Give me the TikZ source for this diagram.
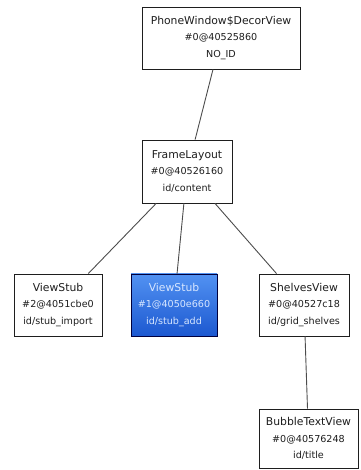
\documentclass[tikz,border=0pt]{standalone}
\usepackage{fontspec}
\setmainfont{DejaVu Sans}
\newcommand\viewlbl[3]{{\fontsize{10.8}{16.5}\selectfont #1}\\#2\\#3}
\definecolor{selTop}{RGB}{82,146,242}
\definecolor{selBot}{RGB}{28,88,208}
\definecolor{selText}{RGB}{215,230,255}
\definecolor{inkDark}{RGB}{30,30,30}
\begin{document}
\begin{tikzpicture}[x=1pt,y=1pt,
  box/.style={draw=inkDark, line width=0.9pt, fill=white, inner sep=0pt, align=center,
    text=inkDark, font=\fontsize{9.6}{16.5}\selectfont},
  sel/.style={box, draw=black!60!blue!60!black, top color=selTop, bottom color=selBot, text=selText},
  link/.style={draw=black!70, line width=0.9pt}]
\useasboundingbox (0,0) rectangle (360,470);
\node[box, minimum width=158, minimum height=62] (decor) at (221,432)
  {\viewlbl{PhoneWindow\$DecorView}{\#0@40525860}{NO\_ID}};
\node[box, minimum width=90, minimum height=63] (frame) at (187,298.5)
  {\viewlbl{FrameLayout}{\#0@40526160}{id/content}};
\node[box, minimum width=88, minimum height=62] (stubimp) at (58,165)
  {\viewlbl{ViewStub}{\#2@4051cbe0}{id/stub\_import}};
\node[sel, minimum width=86, minimum height=62] (stubadd) at (174,165)
  {\viewlbl{ViewStub}{\#1@4050e660}{id/stub\_add}};
\node[box, minimum width=90, minimum height=62] (shelves) at (304,165)
  {\viewlbl{ShelvesView}{\#0@40527c18}{id/grid\_shelves}};
\node[box, minimum width=99, minimum height=59] (bubble) at (308.5,31.5)
  {\viewlbl{BubbleTextView}{\#0@40576248}{id/title}};
\draw[link] (decor) -- (frame);
\draw[link] (frame) -- (stubimp);
\draw[link] (frame) -- (stubadd);
\draw[link] (frame) -- (shelves);
\draw[link] (shelves) -- (bubble);
\end{tikzpicture}
\end{document}
